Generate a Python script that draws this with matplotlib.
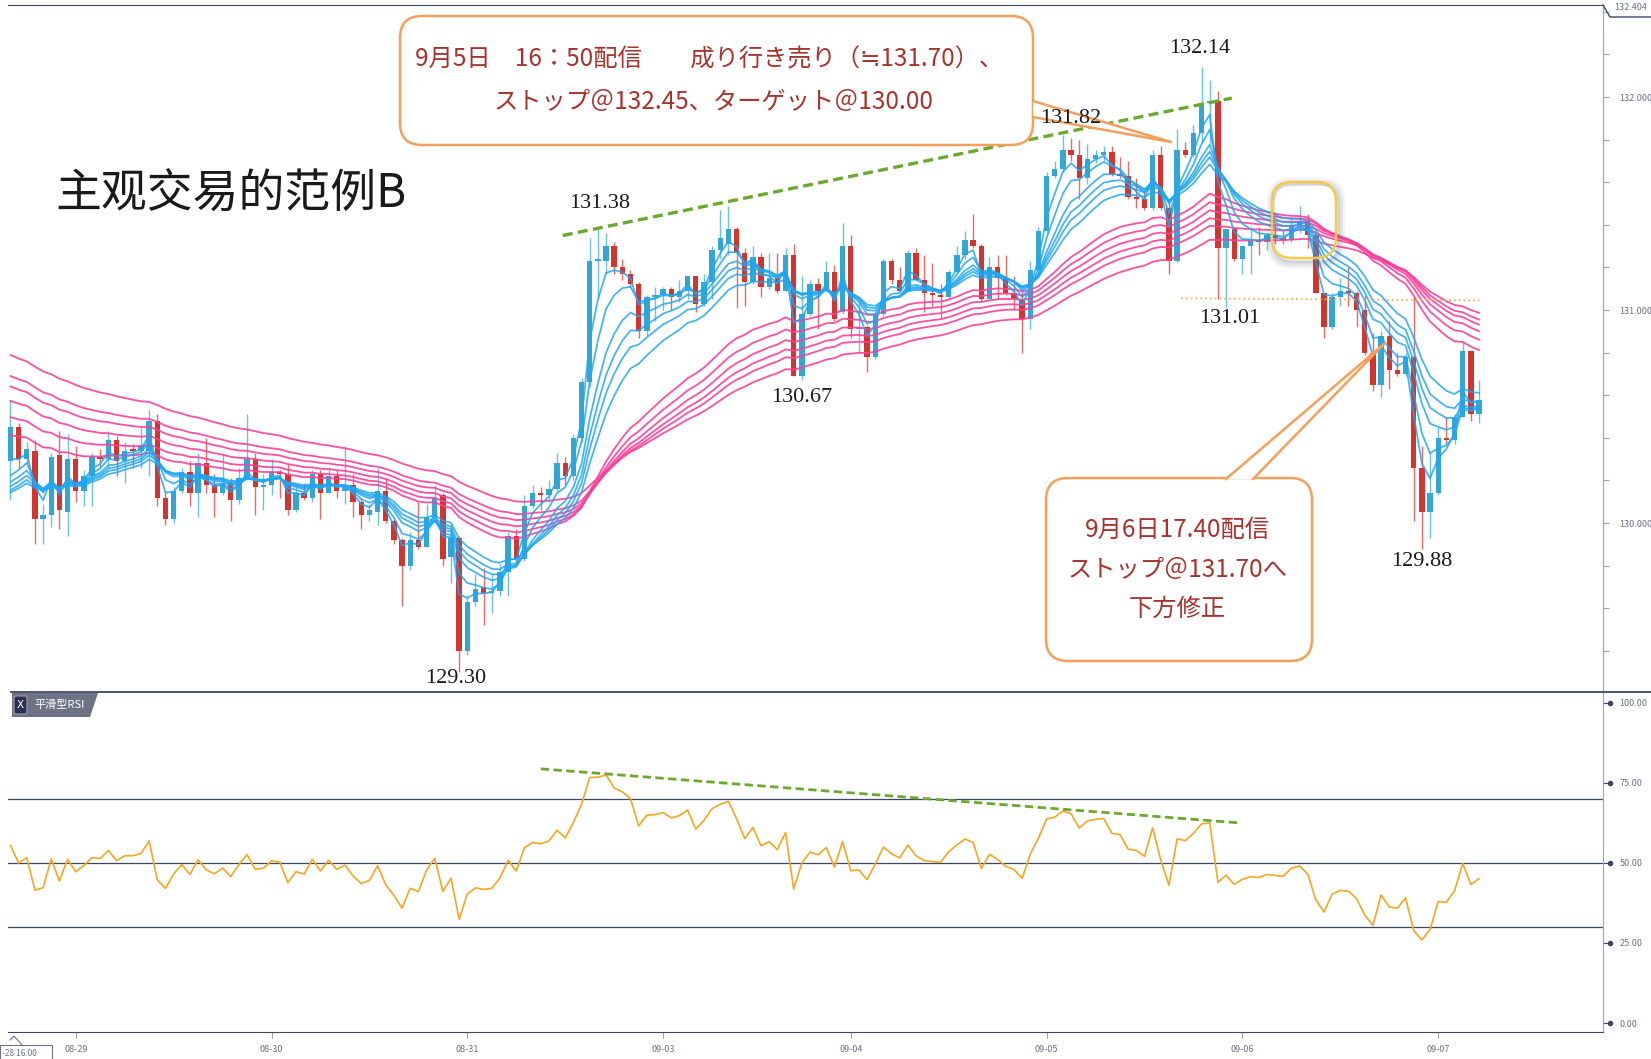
import numpy as np
import pandas as pd
import matplotlib
matplotlib.use("Agg")
import matplotlib.pyplot as plt
from matplotlib.patches import FancyBboxPatch, Polygon, Rectangle
from matplotlib.lines import Line2D
from matplotlib.transforms import Affine2D, blended_transform_factory

plt.rcParams['font.family'] = ['Noto Sans CJK JP', 'DejaVu Sans']

# ---- 1時間足 USD/JPY 08-28 16:00 〜 09-07 ----
opens = [130.29, 130.45, 130.30, 130.34, 130.02, 130.04, 130.32, 130.05,
         130.30, 130.15, 130.22, 130.31, 130.30, 130.39, 130.29, 130.35, 130.34, 130.34, 130.48, 130.12,
         130.02, 130.15, 130.24, 130.14, 130.28, 130.18, 130.14, 130.19, 130.11, 130.21, 130.30, 130.17,
         130.18, 130.24, 130.23, 130.06, 130.14, 130.12, 130.23, 130.14, 130.22, 130.15, 130.18, 130.10,
         130.04, 130.05, 130.15, 130.01, 129.92, 129.80, 129.92, 129.89, 130.03, 130.13, 129.84, 129.93,
         129.40, 129.63, 129.70, 129.67, 129.68, 129.77, 129.94, 129.83, 130.08, 130.14, 130.13, 130.16,
         130.28, 130.22, 130.40, 130.66, 131.23, 131.23, 131.30, 131.20, 131.17, 131.12, 130.90, 131.06,
         131.07, 131.10, 131.06, 131.09, 131.16, 131.03, 131.13, 131.28, 131.31, 131.38, 131.27, 131.13,
         131.25, 131.11, 131.15, 131.09, 131.26, 130.69, 130.98, 131.12, 131.09, 131.18, 130.99,
         131.30, 130.91, 130.92, 130.78, 130.98, 131.23, 131.14, 131.09, 131.27, 131.14, 131.08, 131.07,
         131.06, 131.18, 131.26, 131.33, 131.30, 131.05, 131.20, 131.15, 131.08, 131.05, 130.96, 131.19,
         131.37, 131.63, 131.66, 131.75, 131.73, 131.62, 131.71, 131.73, 131.74, 131.64, 131.63, 131.53,
         131.52, 131.48, 131.73, 131.48, 131.23, 131.75, 131.73, 131.83, 131.97, 131.98, 131.29, 131.38,
         131.24, 131.30, 131.33, 131.32, 131.35, 131.34, 131.33, 131.40, 131.42, 131.35, 131.08, 130.92,
         131.06, 131.09, 131.08, 131.00, 130.80, 130.65, 130.88, 130.72, 130.70, 130.78, 130.26, 130.05,
         130.14, 130.40, 130.39, 130.50, 130.81, 130.51]
highs = [130.58, 130.47, 130.38, 130.39, 130.09, 130.33, 130.43, 130.42,
         130.36, 130.25, 130.33, 130.35, 130.43, 130.41, 130.38, 130.37, 130.45, 130.53, 130.51, 130.15,
         130.17, 130.26, 130.29, 130.33, 130.40, 130.23, 130.33, 130.21, 130.26, 130.51, 130.33, 130.23,
         130.30, 130.25, 130.28, 130.17, 130.19, 130.25, 130.25, 130.26, 130.25, 130.36, 130.23, 130.12,
         130.09, 130.26, 130.21, 130.02, 129.93, 129.96, 130.10, 130.09, 130.18, 130.14, 130.00, 129.94,
         129.66, 129.76, 129.79, 129.76, 129.81, 129.96, 129.97, 130.13, 130.18, 130.17, 130.20, 130.33,
         130.31, 130.42, 130.68, 131.34, 131.38, 131.36, 131.32, 131.24, 131.19, 131.13, 131.07, 131.11,
         131.11, 131.11, 131.14, 131.16, 131.16, 131.17, 131.30, 131.47, 131.49, 131.39, 131.29, 131.30,
         131.27, 131.27, 131.27, 131.29, 131.31, 131.16, 131.14, 131.15, 131.23, 131.21, 131.41,
         131.35, 131.04, 130.93, 130.99, 131.24, 131.24, 131.20, 131.28, 131.29, 131.26, 131.22, 131.12,
         131.19, 131.30, 131.37, 131.45, 131.31, 131.25, 131.26, 131.26, 131.16, 131.10, 131.23, 131.39,
         131.65, 131.70, 131.82, 131.81, 131.80, 131.78, 131.75, 131.77, 131.77, 131.72, 131.70, 131.62,
         131.56, 131.75, 131.77, 131.52, 131.85, 131.79, 131.87, 132.14, 132.08, 132.03, 131.38, 131.39,
         131.30, 131.39, 131.39, 131.36, 131.41, 131.38, 131.43, 131.49, 131.45, 131.36, 131.08, 131.08,
         131.15, 131.20, 131.09, 131.07, 130.89, 130.90, 130.95, 130.80, 130.80, 131.06, 130.36, 130.34,
         130.45, 130.50, 130.51, 130.85, 130.81, 130.67]
lows = [130.11, 130.26, 130.28, 129.90, 129.90, 129.98, 129.97, 129.94,
        130.10, 130.08, 130.08, 130.26, 130.26, 130.22, 130.19, 130.26, 130.26, 130.22, 130.08, 129.99,
        130.00, 130.14, 130.08, 130.03, 130.14, 130.03, 130.13, 130.01, 130.09, 130.20, 130.04, 130.06,
        130.13, 130.12, 130.04, 130.05, 130.11, 130.10, 130.02, 130.14, 130.12, 130.09, 130.03, 129.97,
        130.01, 129.99, 130.00, 129.90, 129.61, 129.78, 129.88, 129.89, 130.01, 129.80, 129.72, 129.30,
        129.38, 129.61, 129.52, 129.58, 129.66, 129.66, 129.81, 129.82, 130.07, 130.06, 130.10, 130.15,
        130.18, 130.20, 130.38, 130.64, 131.05, 131.17, 131.17, 131.14, 131.11, 130.87, 130.88, 130.95,
        131.00, 131.00, 131.04, 131.05, 130.99, 131.02, 131.05, 131.24, 131.26, 131.01, 131.02, 131.12,
        131.06, 131.10, 131.08, 131.09, 130.69, 130.67, 130.97, 130.91, 131.09, 130.95, 130.98,
        130.87, 130.80, 130.71, 130.77, 130.97, 131.12, 131.09, 131.09, 131.14, 130.99, 131.02, 130.96,
        131.05, 131.17, 131.24, 131.29, 131.04, 131.05, 131.05, 131.07, 131.00, 130.80, 130.91, 131.18,
        131.36, 131.62, 131.65, 131.70, 131.52, 131.59, 131.69, 131.70, 131.63, 131.62, 131.52, 131.48,
        131.47, 131.47, 131.47, 131.17, 131.22, 131.72, 131.72, 131.79, 131.78, 131.05, 131.01, 131.23,
        131.17, 131.17, 131.26, 131.28, 131.31, 131.31, 131.32, 131.36, 131.29, 131.08, 130.87, 130.91,
        131.02, 131.02, 130.92, 130.79, 130.62, 130.59, 130.63, 130.69, 130.69, 130.01, 129.88, 129.93,
        130.13, 130.37, 130.37, 130.50, 130.48, 130.47]
closes = [130.45, 130.30, 130.35, 130.02, 130.04, 130.31, 130.06, 130.30,
          130.15, 130.22, 130.31, 130.30, 130.39, 130.29, 130.34, 130.34, 130.36, 130.48, 130.12, 130.02,
          130.15, 130.24, 130.14, 130.28, 130.18, 130.14, 130.19, 130.11, 130.21, 130.30, 130.17, 130.18,
          130.24, 130.23, 130.06, 130.14, 130.12, 130.23, 130.14, 130.22, 130.15, 130.18, 130.10, 130.04,
          130.06, 130.15, 130.01, 129.92, 129.80, 129.92, 129.89, 130.03, 130.12, 129.83, 129.93, 129.40,
          129.63, 129.69, 129.67, 129.68, 129.77, 129.94, 129.83, 130.08, 130.14, 130.13, 130.16, 130.28,
          130.22, 130.40, 130.66, 131.23, 131.24, 131.30, 131.20, 131.17, 131.12, 130.90, 131.06, 131.07,
          131.10, 131.06, 131.09, 131.16, 131.03, 131.13, 131.28, 131.34, 131.38, 131.27, 131.13, 131.25,
          131.11, 131.15, 131.09, 131.26, 130.69, 130.98, 131.12, 131.09, 131.18, 130.96, 131.30,
          130.91, 130.92, 130.78, 130.98, 131.23, 131.14, 131.09, 131.27, 131.14, 131.08, 131.07, 131.06,
          131.18, 131.26, 131.33, 131.30, 131.05, 131.20, 131.15, 131.08, 131.05, 130.96, 131.19, 131.37,
          131.63, 131.66, 131.75, 131.73, 131.62, 131.71, 131.73, 131.74, 131.64, 131.63, 131.53, 131.52,
          131.48, 131.73, 131.48, 131.23, 131.75, 131.73, 131.83, 131.97, 131.98, 131.29, 131.38, 131.24,
          131.30, 131.33, 131.32, 131.35, 131.34, 131.33, 131.40, 131.42, 131.35, 131.08, 130.92, 131.06,
          131.09, 131.08, 131.00, 130.80, 130.65, 130.88, 130.72, 130.70, 130.78, 130.26, 130.05, 130.14,
          130.40, 130.39, 130.50, 130.81, 130.51, 130.58]

# GMMA 期間と表示開始時点の値
short_periods = [3, 5, 8, 10, 12, 15]
short_start = [130.15, 130.11, 130.12, 130.11, 130.10, 130.10]
long_periods = [30, 35, 40, 45, 50, 60]
long_start = [130.41, 130.50, 130.58, 130.65, 130.70, 130.80]

rsi_period = 14
rsi_seed_gain = 0.05
rsi_seed_loss = 0.05

day_ticks = [8, 32, 56, 80, 103, 127, 151, 175]
day_labels = ['08-29', '08-30', '08-31', '09-03', '09-04', '09-05', '09-06', '09-07']

# 価格ラベル (candle index, price)
price_notes = [('131.38', 72.2, 131.50), ('131.82', 130.0, 131.90), ('132.14', 145.8, 132.23),
               ('131.01', 149.4, 130.96), ('130.67', 97.0, 130.59), ('129.30', 54.6, 129.27),
               ('129.88', 173.0, 129.82)]

# ---------------------------------------------------------------------------
o = np.array(opens); h = np.array(highs); l = np.array(lows); c = np.array(closes)
h = np.maximum(h, np.maximum(o, c))
l = np.minimum(l, np.minimum(o, c))
idx = np.arange(len(c))


def ema(values, span, start):
    s = pd.Series([start] + list(values))
    return s.ewm(span=span, adjust=False).mean().to_numpy()[1:]


delta = c - np.r_[o[0], c[:-1]]
gain = pd.Series([rsi_seed_gain] + list(np.clip(delta, 0, None))).ewm(alpha=1 / rsi_period, adjust=False).mean().to_numpy()[1:]
loss = pd.Series([rsi_seed_loss] + list(np.clip(-delta, 0, None))).ewm(alpha=1 / rsi_period, adjust=False).mean().to_numpy()[1:]
rsi = 100 - 100 / (1 + gain / loss)

W, H = 1651, 1059
SEP = 692
fig = plt.figure(figsize=(W / 100, H / 100), dpi=100)
px = Affine2D().scale(1 / W, -1 / H).translate(0, 1) + fig.transFigure

left, width = 8 / W, 1595 / W
ax = fig.add_axes([left, 1 - SEP / H, width, (SEP - 5) / H])
ax2 = fig.add_axes([left, 1 - 1032 / H, width, (1032 - SEP) / H])

AXC = '#3d4765'
SIDE = '#9aa2b8'
LAB = '#6d7385'

# ---- ローソク足 ----
up = c >= o
body_col = np.where(up, '#33a6d4', '#d2352f')
wick_col = np.where(up, '#6cc0e2', '#df6f6a')
ax.vlines(idx, l, h, colors=wick_col, lw=1.0, zorder=2)
ax.bar(idx, np.maximum(np.abs(c - o), 0.008), bottom=np.minimum(o, c), width=0.66,
       color=body_col, linewidth=0, zorder=2.5)

for p, s0 in zip(long_periods, long_start):
    ax.plot(idx, ema(c, p, s0), color='#ff3d9a', lw=1.3, alpha=0.9, zorder=3)
for p, s0 in zip(short_periods, short_start):
    ax.plot(idx, ema(c, p, s0), color='#1fa6f2', lw=1.25, alpha=0.85, zorder=3.2)

# トレンドライン
ax.plot([67.7, 149.7], [131.35, 131.995], color='#6aa92e', lw=2.4, ls=(0, (3, 1.6)), zorder=4)
ax.plot([143.5, 180], [131.055, 131.045], color='#f0b060', lw=1.3, ls=':', zorder=4)

ax.set_xlim(-0.3, 195.2)
ax.set_ylim(129.207, 132.432)
ax.yaxis.tick_right()
yt = np.round(np.arange(129.4, 132.41, 0.2), 1)
ax.set_yticks(yt)
ax.set_yticklabels([f'{v:.3f}' if abs(v - round(v)) < 1e-6 else '' for v in yt])
ax.tick_params(axis='y', direction='out', length=4, color=SIDE, labelsize=6.5, labelcolor=LAB, pad=8)
ax.set_xticks([])
for side in ['left', 'bottom']:
    ax.spines[side].set_visible(False)
ax.spines['top'].set_color(AXC)
ax.spines['right'].set_color(SIDE)

# 価格ラベルは吹き出しより手前に
for txt, xi, yp in price_notes:
    fig.text(xi, yp, txt, transform=ax.transData, ha='center', va='center', fontsize=16,
             family=['Liberation Serif', 'DejaVu Serif'], color='#1a1a1a', zorder=8)

# ---- RSI ----
ax2.plot(idx, rsi, color='#f5a623', lw=1.2, zorder=3)
for lv in [70, 50, 30]:
    ax2.axhline(lv, color=AXC, lw=0.9, zorder=1)
ax2.plot([65.0, 150.7], [79.4, 62.5], color='#6aa92e', lw=2.0, ls=(0, (3, 1.6)), zorder=4)
ax2.set_xlim(-0.3, 195.2)
ax2.set_ylim(-2.8, 103.4)
ax2.yaxis.tick_right()
rt = [0, 25, 50, 75, 100]
ax2.set_yticks(rt)
ax2.set_yticklabels([f'{v:.2f}' for v in rt])
ax2.tick_params(axis='y', direction='out', length=6, color=AXC, labelsize=6.5, labelcolor=LAB, pad=6)
bt = blended_transform_factory(ax2.transAxes, ax2.transData)
ax2.plot([1 + 7 / 1595] * len(rt), rt, 'o', ms=3, color=AXC, transform=bt, clip_on=False)
ax2.set_xticks(day_ticks)
ax2.set_xticklabels(day_labels)
ax2.tick_params(axis='x', direction='out', length=4, color=SIDE, labelsize=6.5, labelcolor=LAB, pad=5)
for side in ['left', 'top']:
    ax2.spines[side].set_visible(False)
ax2.spines['bottom'].set_color(AXC)
ax2.spines['right'].set_color(SIDE)

# 区切り線
fig.add_artist(Line2D([11, W], [SEP, SEP], color=AXC, lw=1.3, transform=px))

# RSI ラベル
fig.add_artist(Polygon([[12, SEP + 1], [98, SEP + 1], [90, SEP + 25], [12, SEP + 25]], closed=True,
                       transform=px, facecolor='#6e7383', edgecolor='none'))
fig.add_artist(FancyBboxPatch((14, SEP + 4), 13, 18, boxstyle='round,pad=0,rounding_size=2', transform=px,
                              facecolor='#2a3150', edgecolor='#9aa0b8', lw=0.8))
fig.text(20.5, SEP + 13.5, 'X', transform=px, color='white', fontsize=7.5, ha='center', va='center',
         family=['DejaVu Sans'])
fig.text(34, SEP + 13, '平滑型RSI', transform=px, color='white', fontsize=8, ha='left', va='center')

# 右上・左下の小さなラベル
fig.add_artist(Line2D([1603, 1610, W], [5, 17, 17], color=AXC, lw=1.0, transform=px))
fig.text(1614, 7, '132.404', transform=px, fontsize=6.5, color=LAB, ha='left', va='center')
fig.add_artist(Line2D([10, 14, 22], [1040, 1036, 1045], color=LAB, lw=0.8, transform=px))
fig.add_artist(Rectangle((0, 1045), 52, 16, transform=px, facecolor='white', edgecolor=LAB, lw=0.8))
fig.text(2, 1053, '-28 16:00', transform=px, fontsize=6, color=LAB, ha='left', va='center')

# ---- タイトル ----
fig.text(55, 195, '主观交易的范例B', transform=px, fontsize=33, ha='left', va='center',
         family=['Noto Sans CJK SC', 'DejaVu Sans'], color='#1a1a1a')

# ---- 吹き出し ----
EDGE = '#f5a05a'
TXT = '#a8322d'


def callout(x0, y0, x1, y1, tail):
    fig.add_artist(FancyBboxPatch((x0, y0), x1 - x0, y1 - y0, boxstyle='round,pad=0,rounding_size=22',
                                  transform=px, facecolor='white', edgecolor=EDGE, lw=1.8, zorder=5))
    fig.add_artist(Polygon(tail, closed=True, transform=px, facecolor='white', edgecolor='none', zorder=5.1))
    fig.add_artist(Line2D([tail[0][0], tail[1][0], tail[2][0]], [tail[0][1], tail[1][1], tail[2][1]],
                          color=EDGE, lw=1.8, transform=px, zorder=5.2))


callout(400, 16, 1033, 145, [[1033, 101], [1171, 142], [1033, 117]])
fig.text(709, 60, '9月5日　16：50配信　　成り行き売り（≒131.70）、', transform=px, fontsize=17.5,
         color=TXT, ha='center', va='center', zorder=6)
fig.text(714, 102, 'ストップ＠132.45、ターゲット＠130.00', transform=px, fontsize=17.5,
         color=TXT, ha='center', va='center', zorder=6)

callout(1046, 478, 1312, 661, [[1226, 479], [1385, 343], [1253, 479]])
for txt, yy in [('9月6日17.40配信', 530), ('ストップ＠131.70へ', 570), ('下方修正', 609)]:
    fig.text(1177, yy, txt, transform=px, fontsize=17.5, color=TXT, ha='center', va='center', zorder=6)

# ---- 黄色の丸枠 ----
for k, a in [(6, 0.08), (4, 0.10), (2, 0.12)]:
    fig.add_artist(FancyBboxPatch((1272 - k / 2 + 2, 182 - k / 2 + 3), 64 + k, 76 + k,
                                  boxstyle='round,pad=0,rounding_size=20', transform=px,
                                  facecolor='none', edgecolor='#606060', lw=k, alpha=a, zorder=4))
fig.add_artist(FancyBboxPatch((1272, 182), 64, 76, boxstyle='round,pad=0,rounding_size=20', transform=px,
                              facecolor='none', edgecolor='#f6c84c', lw=1.8, zorder=4.5))

fig.savefig('out.png', dpi=100, facecolor='white')
